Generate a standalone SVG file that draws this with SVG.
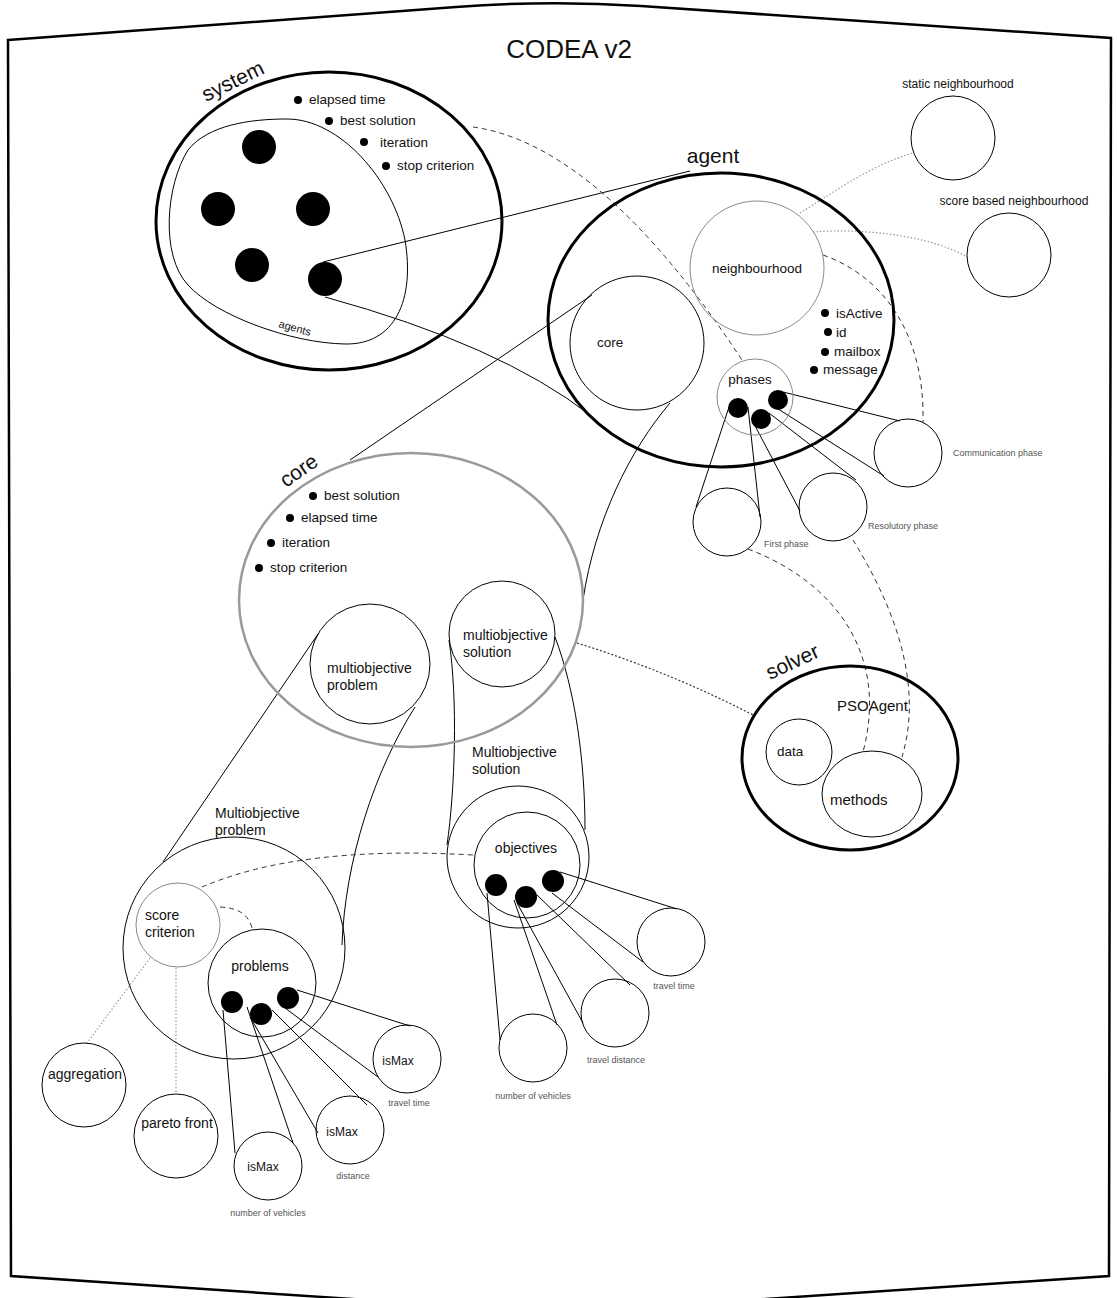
<svg xmlns="http://www.w3.org/2000/svg" width="1117" height="1298" viewBox="0 0 1117 1298">
<style>
text{font-family:"Liberation Sans",Arial,Helvetica,sans-serif;fill:#111}
.thick{fill:none;stroke:#000;stroke-width:3}
.thin{fill:none;stroke:#000;stroke-width:1}
.gray{fill:none;stroke:#8a8a8a;stroke-width:1}
.coreE{fill:none;stroke:#9a9a9a;stroke-width:2.5}
.dot{fill:#000}
.dash{fill:none;stroke:#333;stroke-width:1;stroke-dasharray:5 4}
.dotted{fill:none;stroke:#999;stroke-width:1.2;stroke-dasharray:1.5 2}
.dotdark{fill:none;stroke:#333;stroke-width:1.2;stroke-dasharray:2 2}
.t13{font-size:13.5px}
.t14{font-size:14px}
.t12{font-size:12px}
.sm{font-size:9px;fill:#555}
.big{font-size:21px}
</style>
<rect width="1117" height="1298" fill="#fff"/>
<g id="frame">
<path d="M 8,40 L 456,7 Q 548,0 641,6 L 1111,38 L 1109,1276 L 660,1306 Q 558,1312 456,1306 L 11,1276 Z" fill="none" stroke="#000" stroke-width="2.5"/>
<text x="569" y="58" text-anchor="middle" font-size="26">CODEA v2</text>
</g>

<g id="connectors">
<!-- system agent dot to agent -->
<line class="thin" x1="323" y1="262" x2="690" y2="171"/>
<path class="thin" d="M 325,297 Q 500,345 590,415"/>
<!-- system to phases dashed -->
<path class="dash" d="M 473,127 Q 600,145 742,360"/>
<!-- neighbourhood to communication phase -->
<path class="dash" d="M 823,255 C 880,275 925,330 923,422"/>
<!-- neighbourhood to static / score -->
<path class="dotted" d="M 800,213 C 830,195 870,165 913,153"/>
<path class="dotted" d="M 813,232 C 860,228 930,235 967,257"/>
<!-- phases dots to phase circles -->
<line class="thin" x1="729" y1="407" x2="696" y2="507"/>
<line class="thin" x1="748" y1="407" x2="760" y2="517"/>
<line class="thin" x1="753" y1="422" x2="800" y2="511"/>
<line class="thin" x1="769" y1="413" x2="856" y2="480"/>
<line class="thin" x1="783" y1="392" x2="900" y2="421"/>
<line class="thin" x1="775" y1="407" x2="884" y2="476"/>
<!-- phases to methods -->
<path class="dash" d="M 748,549 C 830,580 890,650 863,752"/>
<path class="dash" d="M 853,540 C 890,600 925,680 902,757"/>
<!-- agent core to big core -->
<line class="thin" x1="592" y1="295" x2="350" y2="460"/>
<path class="thin" d="M 670,403 C 630,450 595,520 583,600"/>
<!-- core to solver -->
<path class="dotdark" d="M 577,643 Q 670,672 753,715"/>
<!-- multiobjective problem -->
<line class="thin" x1="318" y1="634" x2="163" y2="862"/>
<path class="thin" d="M 415,707 C 375,770 345,860 342,945"/>
<!-- multiobjective solution -->
<path class="thin" d="M 449,640 C 458,700 455,790 447,845"/>
<path class="thin" d="M 555,637 C 575,690 585,760 585,830"/>
<!-- score criterion -->
<path class="dash" d="M 202,887 Q 300,845 473,855"/>
<path class="dash" d="M 220,907 Q 247,908 252,928"/>
<line class="dotted" x1="150" y1="958" x2="87" y2="1043"/>
<line class="dotted" x1="176" y1="968" x2="176" y2="1094"/>
<!-- problems dots -->
<line class="thin" x1="223" y1="1010" x2="235" y2="1153"/>
<line class="thin" x1="247" y1="1007" x2="293" y2="1143"/>
<line class="thin" x1="250" y1="1017" x2="318" y2="1133"/>
<line class="thin" x1="272" y1="1010" x2="367" y2="1105"/>
<line class="thin" x1="297" y1="990" x2="410" y2="1026"/>
<line class="thin" x1="285" y1="1008" x2="378" y2="1077"/>
<!-- objectives dots -->
<line class="thin" x1="487" y1="893" x2="500" y2="1040"/>
<line class="thin" x1="514" y1="900" x2="557" y2="1025"/>
<line class="thin" x1="517" y1="903" x2="583" y2="1023"/>
<line class="thin" x1="537" y1="895" x2="630" y2="985"/>
<line class="thin" x1="560" y1="872" x2="677" y2="909"/>
<line class="thin" x1="552" y1="893" x2="643" y2="962"/>
</g>

<g id="system">
<ellipse class="thick" cx="329" cy="221" rx="173" ry="149"/>
<text class="big" font-size="22" transform="translate(206,102) rotate(-26)">system</text>
<path class="thin" d="M 287,119 C 340,119 393,180 405,240 C 415,300 395,345 345,344 C 290,343 215,315 188,285 C 160,255 166,185 188,150 C 208,125 250,119 287,119 Z"/>
<text font-size="11" transform="translate(278,327) rotate(16)">agents</text>
<circle class="dot" cx="259" cy="147" r="17"/>
<circle class="dot" cx="218" cy="209" r="17"/>
<circle class="dot" cx="313" cy="209" r="17"/>
<circle class="dot" cx="252" cy="265" r="17"/>
<circle class="dot" cx="325" cy="279" r="17"/>
<circle class="dot" cx="298" cy="100" r="4"/><text class="t13" x="309" y="104">elapsed time</text>
<circle class="dot" cx="329" cy="121" r="4"/><text class="t13" x="340" y="125">best solution</text>
<circle class="dot" cx="364" cy="142" r="4"/><text class="t13" x="380" y="147">iteration</text>
<circle class="dot" cx="386" cy="166" r="4"/><text class="t13" x="397" y="170">stop criterion</text>
</g>

<g id="agent">
<ellipse class="thick" cx="721" cy="320" rx="173" ry="147"/>
<text class="big" x="713" y="163" text-anchor="middle">agent</text>
<circle class="gray" cx="757" cy="268" r="67"/>
<text class="t13" x="757" y="273" text-anchor="middle">neighbourhood</text>
<circle class="thin" cx="637" cy="343" r="67"/>
<text class="t13" x="597" y="347">core</text>
<circle class="gray" cx="755" cy="397" r="38"/>
<text class="t13" x="750" y="384" text-anchor="middle">phases</text>
<circle class="dot" cx="738" cy="408" r="10"/>
<circle class="dot" cx="761" cy="419" r="10"/>
<circle class="dot" cx="778" cy="400" r="10"/>
<circle class="dot" cx="825" cy="313" r="4"/><text class="t13" x="836" y="318">isActive</text>
<circle class="dot" cx="828" cy="332" r="4"/><text class="t13" x="836" y="337">id</text>
<circle class="dot" cx="825" cy="352" r="4"/><text class="t13" x="834" y="356">mailbox</text>
<circle class="dot" cx="814" cy="370" r="4"/><text class="t13" x="823" y="374">message</text>
</g>

<g id="static-neighbourhood">
<circle class="thin" cx="953" cy="138" r="42"/>
<text class="t12" x="958" y="88" text-anchor="middle">static neighbourhood</text>
</g>
<g id="score-based-neighbourhood">
<circle class="thin" cx="1009" cy="255" r="42"/>
<text class="t12" x="1014" y="205" text-anchor="middle">score based neighbourhood</text>
</g>

<g id="communication-phase">
<circle class="thin" cx="908" cy="453" r="34"/>
<text class="sm" x="953" y="456">Communication phase</text>
</g>
<g id="resolutory-phase">
<circle class="thin" cx="833" cy="507" r="34"/>
<text class="sm" x="868" y="529">Resolutory phase</text>
</g>
<g id="first-phase">
<circle class="thin" cx="727" cy="522" r="34"/>
<text class="sm" x="764" y="547">First phase</text>
</g>

<g id="solver">
<ellipse class="thick" cx="850" cy="758" rx="108" ry="92"/>
<text class="big" transform="translate(770,680) rotate(-25)">solver</text>
<text x="837" y="711" font-size="15">PSOAgent</text>
<circle class="thin" cx="799" cy="752" r="33"/>
<text class="t13" x="777" y="756">data</text>
<ellipse class="thin" cx="872" cy="794" rx="50" ry="43"/>
<text x="830" y="805" font-size="15">methods</text>
</g>

<g id="core">
<ellipse class="coreE" cx="411" cy="600" rx="172" ry="147"/>
<text class="big" font-size="22" transform="translate(286,488) rotate(-35)">core</text>
<circle class="dot" cx="313" cy="496" r="4"/><text class="t13" x="324" y="500">best solution</text>
<circle class="dot" cx="290" cy="518" r="4"/><text class="t13" x="301" y="522">elapsed time</text>
<circle class="dot" cx="271" cy="543" r="4"/><text class="t13" x="282" y="547">iteration</text>
<circle class="dot" cx="259" cy="568" r="4"/><text class="t13" x="270" y="572">stop criterion</text>
<circle class="thin" cx="370" cy="664" r="60"/>
<text class="t14" x="327" y="673">multiobjective</text>
<text class="t14" x="327" y="690">problem</text>
<circle class="thin" cx="502" cy="634" r="53"/>
<text class="t14" x="463" y="640">multiobjective</text>
<text class="t14" x="463" y="657">solution</text>
</g>

<g id="multiobjective-problem">
<circle class="thin" cx="234" cy="948" r="111"/>
<text class="t14" x="215" y="818">Multiobjective</text>
<text class="t14" x="215" y="835">problem</text>
<circle class="gray" cx="178" cy="925" r="42"/>
<text class="t14" x="145" y="920">score</text>
<text class="t14" x="145" y="937">criterion</text>
<circle class="thin" cx="262" cy="983" r="54"/>
<text class="t14" x="260" y="971" text-anchor="middle">problems</text>
<circle class="dot" cx="232" cy="1002" r="11"/>
<circle class="dot" cx="261" cy="1014" r="11"/>
<circle class="dot" cx="288" cy="998" r="11"/>
</g>

<g id="aggregation">
<circle class="thin" cx="84" cy="1085" r="42"/>
<text class="t14" x="85" y="1079" text-anchor="middle">aggregation</text>
</g>
<g id="pareto-front">
<circle class="thin" cx="176" cy="1136" r="42"/>
<text class="t14" x="177" y="1128" text-anchor="middle">pareto front</text>
</g>

<g id="ismax-travel-time">
<circle class="thin" cx="407" cy="1059" r="34"/>
<text class="t12" x="398" y="1065" text-anchor="middle">isMax</text>
<text class="sm" x="409" y="1106" text-anchor="middle">travel time</text>
</g>
<g id="ismax-distance">
<circle class="thin" cx="350" cy="1130" r="34"/>
<text class="t12" x="342" y="1136" text-anchor="middle">isMax</text>
<text class="sm" x="353" y="1179" text-anchor="middle">distance</text>
</g>
<g id="ismax-number-of-vehicles">
<circle class="thin" cx="268" cy="1166" r="34"/>
<text class="t12" x="263" y="1171" text-anchor="middle">isMax</text>
<text class="sm" x="268" y="1216" text-anchor="middle">number of vehicles</text>
</g>

<g id="multiobjective-solution">
<circle class="thin" cx="518" cy="857" r="71"/>
<text class="t14" x="472" y="757">Multiobjective</text>
<text class="t14" x="472" y="774">solution</text>
<circle class="thin" cx="527" cy="865" r="53"/>
<text class="t14" x="526" y="853" text-anchor="middle">objectives</text>
<circle class="dot" cx="496" cy="885" r="11"/>
<circle class="dot" cx="526" cy="897" r="11"/>
<circle class="dot" cx="553" cy="881" r="11"/>
</g>

<g id="objective-travel-time">
<circle class="thin" cx="671" cy="942" r="34"/>
<text class="sm" x="674" y="989" text-anchor="middle">travel time</text>
</g>
<g id="objective-travel-distance">
<circle class="thin" cx="615" cy="1013" r="34"/>
<text class="sm" x="616" y="1063" text-anchor="middle">travel distance</text>
</g>
<g id="objective-number-of-vehicles">
<circle class="thin" cx="533" cy="1048" r="34"/>
<text class="sm" x="533" y="1099" text-anchor="middle">number of vehicles</text>
</g>
</svg>
